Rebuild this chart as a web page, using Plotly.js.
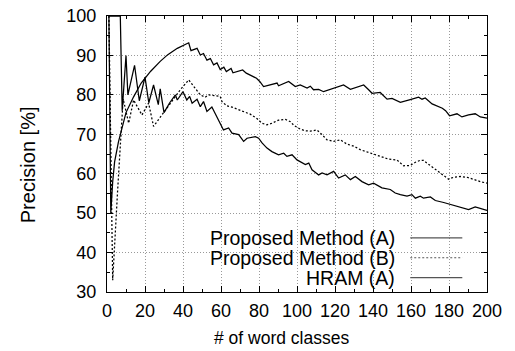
<!DOCTYPE html>
<html><head><meta charset="utf-8">
<script src="https://cdn.plot.ly/plotly-3.0.1.min.js"></script>
<style>html,body{margin:0;padding:0;background:#fff}#c{width:515px;height:351px}</style>
</head><body><div id="c"></div>
<script>
// Proposed Method (A)
const xA = [1,2,3,4,6,8,10,14,18,23,28,32,37,43,44.2,47.4,49.1,50.8,52.6,54.4,56.1,57.9,59.6,61.5,62.8,65.3,66.3,71.4,73.3,78.7,80.4,82.4,85,89.5,90.3,95.6,99.1,101.7,105.3,107,108.7,111.4,114,119.3,124.5,128.1,135.1,137.7,139.5,143.8,147.4,150,154.4,159.6,164,165.8,167.5,171.1,176.5,178.2,180.3,184.2,186.8,190.3,193.8,196.5,200];
const yA = [100,50,58,63,68,72,75.5,79.5,83,86,88.5,90.2,91.8,93.2,91.2,91.8,90.1,90.5,88.8,89.2,87.6,88.1,86.4,87.0,85.9,86.7,85.6,86.3,85.5,84.2,83.4,82.1,82.5,83.0,82.3,83.4,82.1,82.5,81.7,82.2,81.3,81.4,80.8,81.7,82.5,81.4,82.5,81.3,80.4,80.6,78.9,79.1,78.1,78.8,79.4,78.9,79.2,77.7,76.6,76.0,74.7,75.2,74.4,74.9,75.2,74.4,74.1];
// Proposed Method (B)
const xB = [1,3,5.5,8.5,11.4,14,18.4,21.9,24.5,29,33.3,36,38.6,43,45.6,48.2,49.1,51.7,53.5,59.6,60.5,63.1,65.8,68.4,71.9,75.4,78.9,81.6,84.2,86.8,90.3,93.8,96.5,98.5,101.7,104.4,107,110.5,113.2,115.8,119.3,122.8,126.3,129.8,133.3,136.4,140.3,144.7,148.2,152.6,156.1,159.6,162.3,164.9,166.6,168.4,171.9,175.4,179.8,182.4,186,189.5,193,196.5,200];
const yB = [100,33,55,79,72.8,78.7,74.9,77.9,72,75,77.9,79.6,81.3,83.8,82.1,80.4,80,79.4,80,79.6,78.3,77.2,76.9,76.4,75.8,75.1,74,72.8,72.4,72.8,73.6,73.8,73.2,72.2,71.3,70.9,70.8,71.1,69.9,68.6,68.2,68.6,67.5,67,66.1,65.6,64.8,64.2,63.7,63.5,62,62.1,62.9,63.4,63.4,62.7,61.4,60.2,58.6,59.1,59.3,59.1,58.5,58,57.6];
// HRAM (A)
const xC = [1,7,8,10,11,14.5,17,20,22,24.5,27,28,30,33,36,37,40,42,43.5,44.8,47.4,49.1,50.8,52.6,55.2,57.9,60.5,61.3,64,65.8,69.3,71.9,73.7,78.1,79.8,81.6,84.2,86.8,90.3,93,94.7,97.4,100,101.7,104.4,106.2,107.9,111.4,113.2,115.8,119.3,121.9,125.4,128.1,130.7,134.2,137.7,140.3,144.7,149.1,151.7,154.4,157.9,160.5,162.3,164.9,166.6,170.2,172.8,177.2,180.7,184.2,187.7,190.3,193.8,195.6,200];
const yC = [100,100,76,90,80,87.5,78.5,84.5,78,82.5,77.5,81.5,75.5,78,80,78.7,80.8,78.7,79.6,77.9,78.9,77,78.3,75.8,76.9,74.4,72,71.1,71.6,70.3,69.9,68.2,69,69.4,69,67.8,66.5,65.6,64.8,65.2,64.4,64.8,63.5,63.1,62.3,62.7,61,59.7,60.2,59.7,60.6,58.9,59.7,58.5,59.3,58,57.2,57.6,56.4,56,55.1,54.7,54.3,54.7,53.8,54.3,53.8,54.1,53.2,52.7,52.2,51.7,51.1,50.9,51.6,51.3,50.7];

const seriesNames = ['Proposed Method (A)','Proposed Method (B)','HRAM (A)'];
const seriesDash = ['solid','2px,2px','solid'];
const xTicks = [0,20,40,60,80,100,120,140,160,180,200];
const yTicks = [30,40,50,60,70,80,90,100];
const xTitle = '# of word classes';
const yTitle = 'Precision [%]';

const FONT = 'Liberation Sans, Arial, Helvetica, sans-serif';
const xs = [xA,xB,xC], ys = [yA,yB,yC];
const traces = seriesNames.map((n,i)=>({
  x: xs[i], y: ys[i], name: n, type:'scatter', mode:'lines',
  line:{color:'#000', width:1.25, dash:seriesDash[i]}, showlegend:false
}));

// legend drawn as text + sample lines (text left of the line sample)
const legY = [0.196, 0.124, 0.052];
const annotations = seriesNames.map((n,i)=>({
  xref:'paper', yref:'paper', x:0.762, y:legY[i], xanchor:'right', yanchor:'middle',
  text:n, showarrow:false, font:{family:FONT, size:19.5, color:'#000'}
}));
annotations.push({xref:'paper', yref:'paper', x:(281-106.7)/380, y:(292.3-338)/276.5, xanchor:'center', yanchor:'middle', text:xTitle, showarrow:false, font:{family:FONT,size:17.5,color:'#000'}});
annotations.push({xref:'paper', yref:'paper', x:(28-106.7)/380, y:(292.3-165)/276.5, xanchor:'center', yanchor:'middle', textangle:-90, text:yTitle, showarrow:false, font:{family:FONT,size:20,color:'#000'}});

const shapes = [{type:'rect', xref:'paper', yref:'paper', x0:0.003, x1:0.997, y0:0.003, y1:(292.3-228)/276.5, fillcolor:'#fff', line:{width:0}, layer:'between'}];
seriesNames.forEach((n,i)=>shapes.push({type:'line', xref:'paper', yref:'paper', x0:0.798, x1:0.935, y0:legY[i], y1:legY[i], line:{color:'#555', width:1.1, dash:seriesDash[i]}, layer:'above'}));

const axisCommon = {
  showline:true, linecolor:'#000', linewidth:1.2, mirror:'allticks',
  ticks:'inside', ticklen:6, tickwidth:1, tickcolor:'#000',
  showgrid:true, gridcolor:'#999', griddash:'1px,2px', gridwidth:1,
  zeroline:false, tickfont:{family:FONT, size:18, color:'#000'}
};
const layout = {
  width:515, height:351, margin:{l:107, r:28, t:16, b:59},
  paper_bgcolor:'#fff', plot_bgcolor:'#fff', showlegend:false,
  xaxis: Object.assign({}, axisCommon, {range:[0,200], tickvals:xTicks, ticktext:xTicks.map(String), ticklabelstandoff:2,
    minor:{dtick:10, tick0:0, ticklen:3, ticks:'inside', tickcolor:'#000', showgrid:false}}),
  yaxis: Object.assign({}, axisCommon, {range:[30,100], tickvals:yTicks, ticktext:yTicks.map(String), ticklabelstandoff:6,
    minor:{dtick:5, tick0:0, ticklen:3, ticks:'inside', tickcolor:'#000', showgrid:false}}),
  annotations, shapes
};
Plotly.newPlot('c', traces, layout, {staticPlot:true});
</script></body></html>
